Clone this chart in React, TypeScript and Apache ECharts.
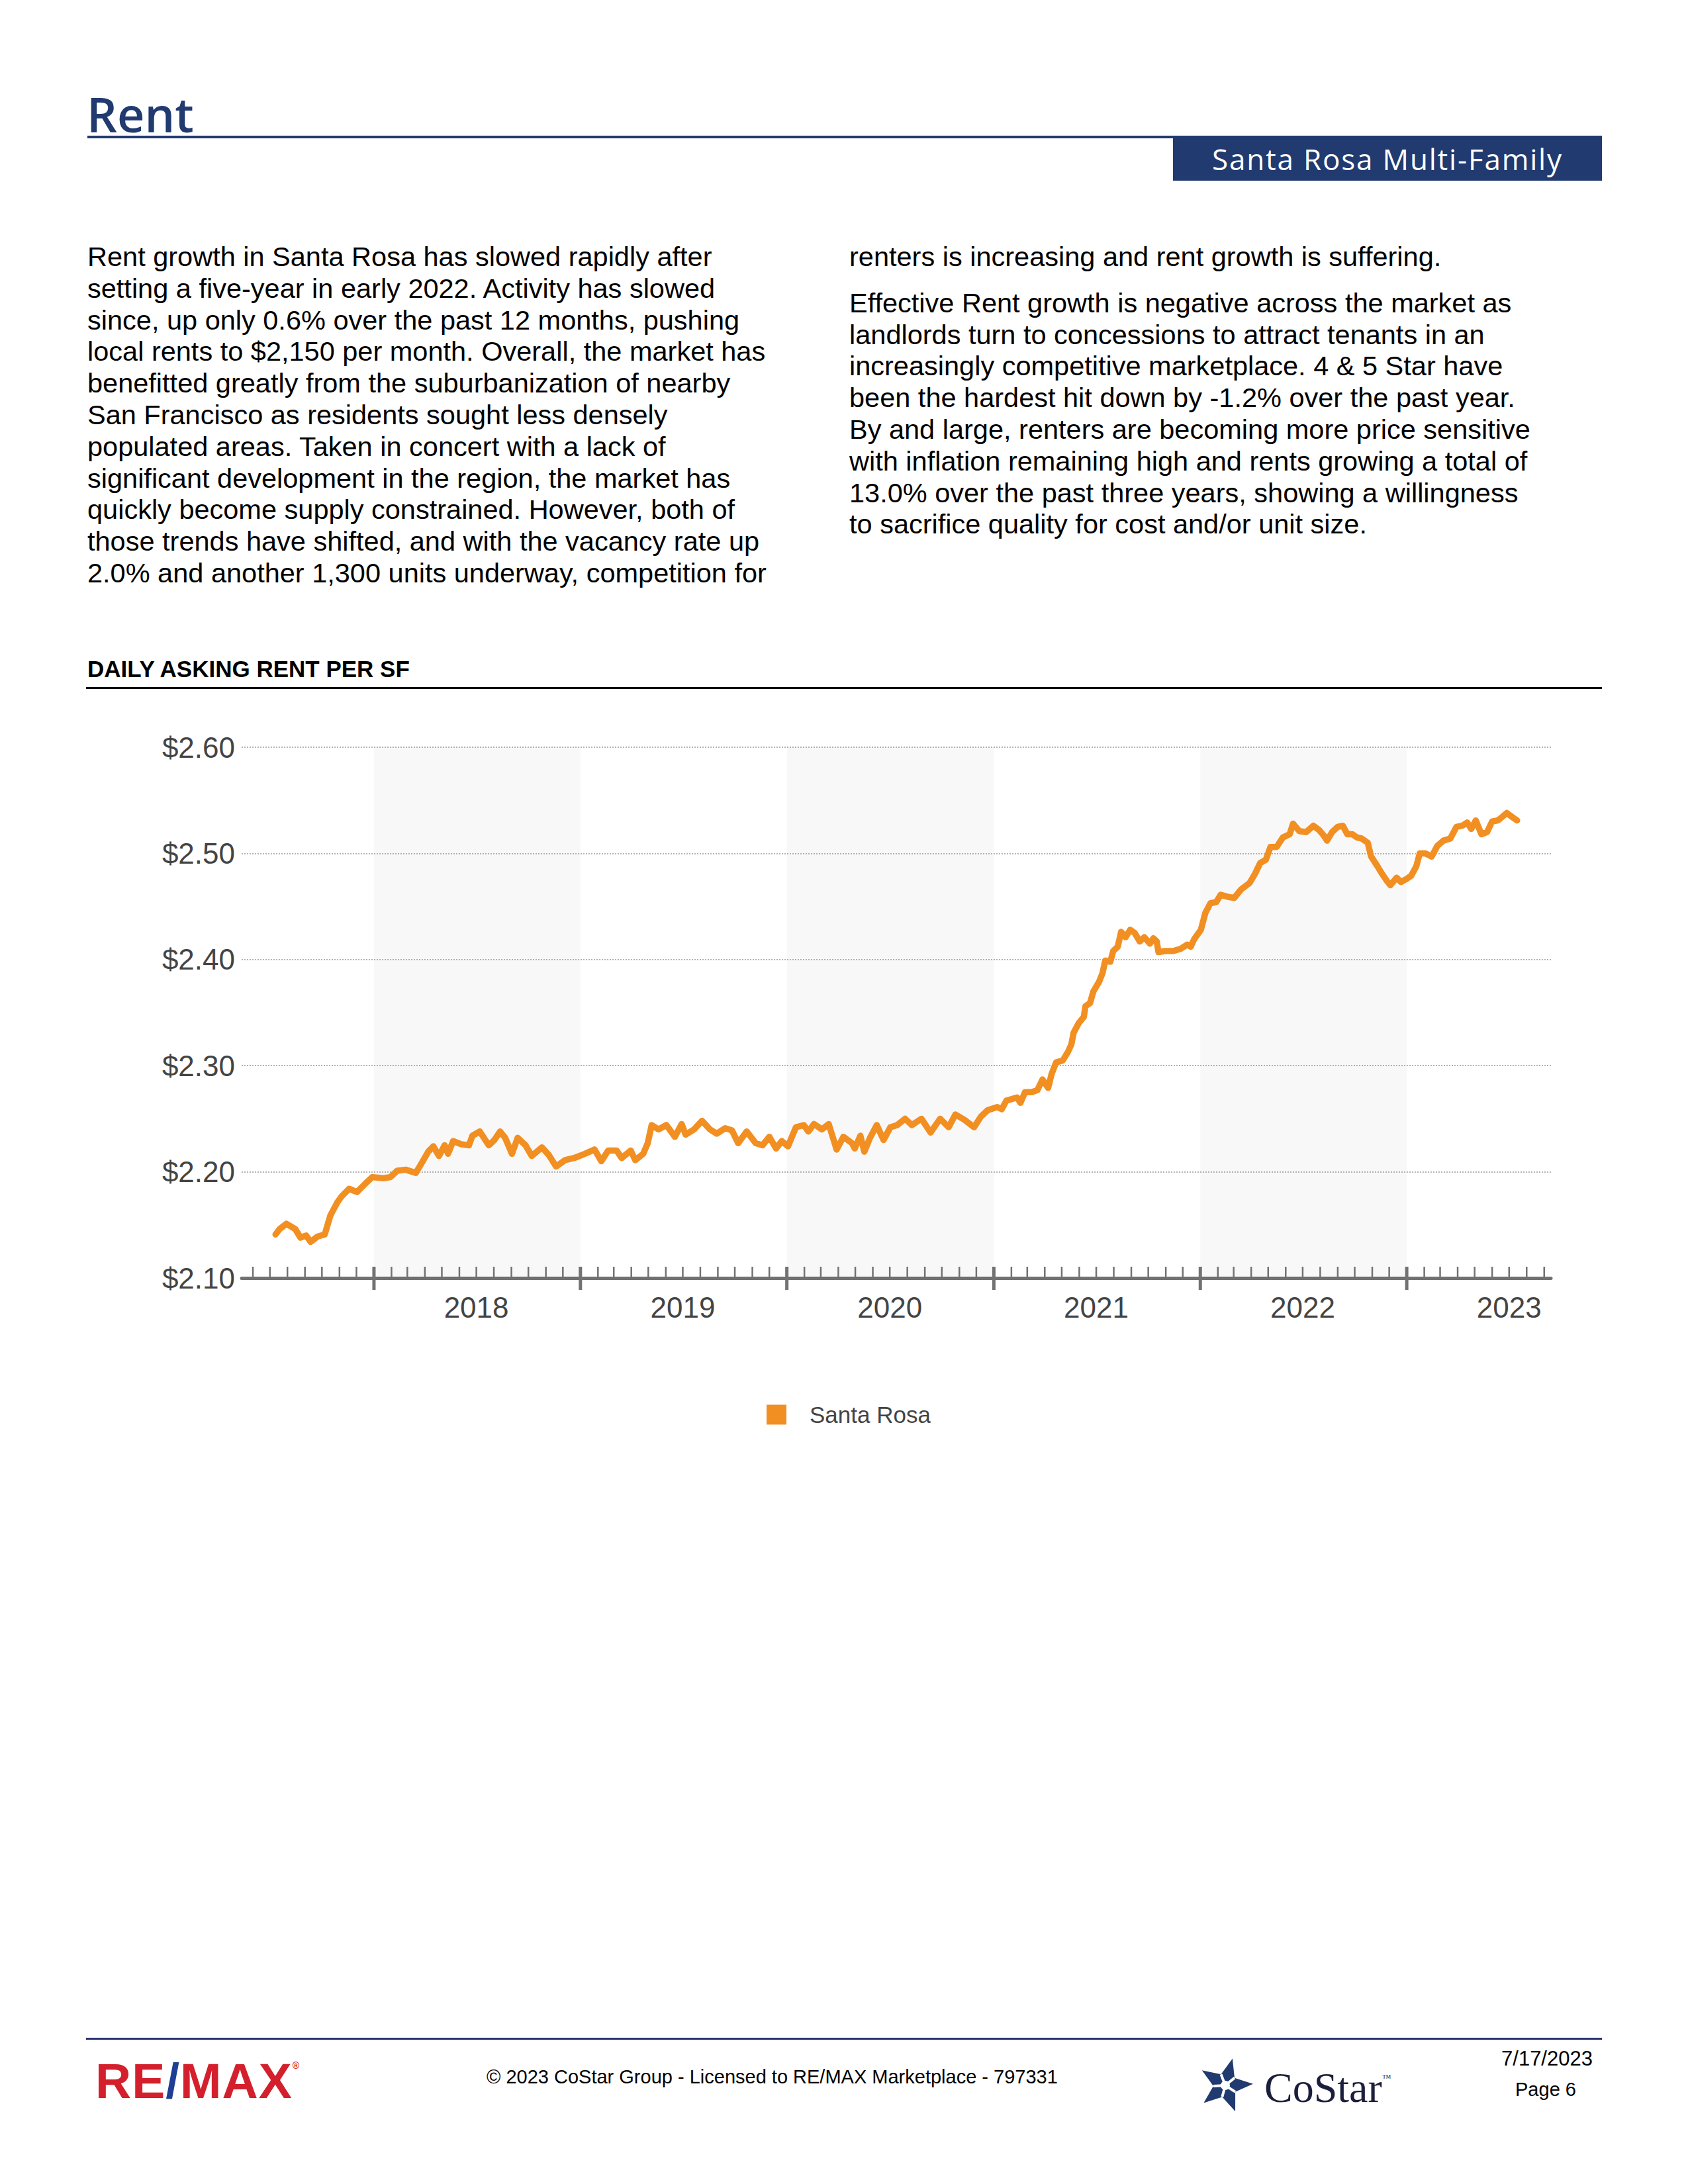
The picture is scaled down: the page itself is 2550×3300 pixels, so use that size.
import React, { useEffect, useRef } from "react";
import * as echarts from "echarts";

// ---------------- Data ----------------
const DATES = [
  "2017-07-11","2017-07-18","2017-07-30","2017-08-15","2017-08-24","2017-09-03","2017-09-11","2017-09-23",
  "2017-10-06","2017-10-16","2017-10-28","2017-11-05","2017-11-18","2017-12-02","2017-12-17","2017-12-29",
  "2018-01-18","2018-01-30","2018-02-11","2018-02-26","2018-03-16","2018-03-25","2018-04-07","2018-04-16",
  "2018-04-26","2018-05-06","2018-05-12","2018-05-21","2018-06-04","2018-06-18","2018-06-24","2018-07-07",
  "2018-07-23","2018-08-02","2018-08-12","2018-08-21","2018-09-02","2018-09-12","2018-09-26","2018-10-07",
  "2018-10-25","2018-11-06","2018-11-19","2018-12-05","2018-12-21",
  "2019-01-09","2019-01-26","2019-02-07","2019-02-19","2019-03-06","2019-03-15","2019-03-31","2019-04-08",
  "2019-04-22","2019-04-30","2019-05-07","2019-05-19","2019-06-02","2019-06-17","2019-06-29","2019-07-06",
  "2019-07-21","2019-08-04","2019-08-18","2019-08-30","2019-09-14","2019-09-26","2019-10-07","2019-10-22",
  "2019-11-07","2019-11-19","2019-12-01","2019-12-13","2019-12-23",
  "2020-01-03","2020-01-17","2020-01-31","2020-02-08","2020-02-18","2020-03-03","2020-03-15","2020-03-29",
  "2020-04-10","2020-04-25","2020-04-30","2020-05-10","2020-05-17","2020-05-27","2020-06-08","2020-06-20",
  "2020-07-02","2020-07-14","2020-07-28","2020-08-09","2020-08-26","2020-09-11","2020-09-28","2020-10-13",
  "2020-10-25","2020-11-10","2020-11-27","2020-12-09","2020-12-21",
  "2021-01-07","2021-01-15","2021-01-23","2021-02-11","2021-02-17","2021-02-25","2021-03-09","2021-03-19",
  "2021-03-28","2021-04-07","2021-04-13","2021-04-21","2021-05-03","2021-05-12","2021-05-18","2021-05-22",
  "2021-05-31","2021-06-09","2021-06-12","2021-06-20","2021-06-26","2021-07-06","2021-07-12","2021-07-17",
  "2021-07-26","2021-07-31","2021-08-08","2021-08-14","2021-08-22","2021-08-30","2021-09-07","2021-09-16",
  "2021-09-24","2021-10-04","2021-10-10","2021-10-16","2021-10-19","2021-10-31","2021-11-14","2021-11-27",
  "2021-12-09","2021-12-15","2021-12-21",
  "2022-01-02","2022-01-10","2022-01-19","2022-01-29","2022-02-06","2022-02-19","2022-03-02","2022-03-14",
  "2022-03-29","2022-04-08","2022-04-17","2022-04-27","2022-05-05","2022-05-16","2022-05-27","2022-06-08",
  "2022-06-14","2022-06-25","2022-07-07","2022-07-20","2022-07-30","2022-08-07","2022-08-13","2022-08-22",
  "2022-09-01","2022-09-10","2022-09-18","2022-09-27","2022-10-05","2022-10-13","2022-10-24","2022-10-30",
  "2022-11-10","2022-11-18","2022-11-27","2022-12-03","2022-12-14","2022-12-22",
  "2023-01-01","2023-01-09","2023-01-18","2023-01-24","2023-02-03","2023-02-14","2023-02-24","2023-03-07",
  "2023-03-19","2023-03-30","2023-04-09","2023-04-18","2023-04-25","2023-05-03","2023-05-13","2023-05-23",
  "2023-06-01","2023-06-11","2023-06-18","2023-06-27","2023-07-07","2023-07-15"
];

const RENT = [
  2.141,2.146,2.151,2.146,2.138,2.140,2.134,2.139,
  2.141,2.159,2.171,2.177,2.184,2.181,2.189,2.195,
  2.194,2.195,2.201,2.202,2.199,2.207,2.219,2.224,
  2.215,2.225,2.217,2.229,2.226,2.225,2.234,2.238,
  2.225,2.230,2.238,2.232,2.217,2.232,2.225,2.215,
  2.223,2.216,2.205,2.211,2.213,
  2.217,2.221,2.210,2.220,2.220,2.213,2.220,2.211,
  2.217,2.227,2.244,2.240,2.244,2.233,2.245,2.235,
  2.240,2.248,2.240,2.236,2.241,2.239,2.227,2.238,
  2.227,2.225,2.233,2.222,2.229,
  2.224,2.242,2.244,2.238,2.245,2.240,2.245,2.221,
  2.233,2.227,2.222,2.234,2.219,2.232,2.244,2.230,
  2.242,2.244,2.250,2.244,2.250,2.237,2.250,2.242,
  2.254,2.249,2.242,2.252,2.258,
  2.261,2.259,2.267,2.270,2.265,2.275,2.275,2.277,
  2.287,2.279,2.292,2.303,2.305,2.313,2.320,2.331,
  2.340,2.346,2.356,2.359,2.370,2.379,2.387,2.399,
  2.398,2.408,2.412,2.426,2.421,2.428,2.425,2.417,
  2.421,2.415,2.420,2.417,2.407,2.408,2.408,2.410,
  2.414,2.412,2.419,
  2.428,2.444,2.453,2.454,2.461,2.459,2.458,2.466,
  2.472,2.481,2.491,2.494,2.506,2.506,2.515,2.518,
  2.528,2.521,2.520,2.526,2.522,2.517,2.512,2.520,
  2.525,2.526,2.518,2.518,2.515,2.514,2.510,2.497,
  2.488,2.481,2.474,2.470,2.477,2.473,
  2.476,2.479,2.488,2.500,2.500,2.497,2.507,2.512,
  2.514,2.525,2.526,2.529,2.523,2.531,2.518,2.520,
  2.530,2.531,2.534,2.538,2.534,2.531
];

const SERIES_NAME = "Santa Rosa";
const SHADED_YEARS = [2018, 2020, 2022];
const LABEL_YEARS = [2018, 2019, 2020, 2021, 2022, 2023];
const X_MIN = "2017-05-12";
const X_MAX = "2023-09-13";
const Y_MIN = 2.1;
const Y_MAX = 2.6;
const Y_STEP = 0.1;

// monthly tick marks (first of each month inside the axis range)
const TICK_DATES: string[] = [];
for (let y = 2017; y <= 2023; y++) {
  for (let m = 1; m <= 12; m++) {
    const s = `${y}-${String(m).padStart(2, "0")}-01`;
    if (s > X_MIN && s < X_MAX) TICK_DATES.push(s);
  }
}

const LEFT_LINES = [
  "Rent growth in Santa Rosa has slowed rapidly after",
  "setting a five-year in early 2022. Activity has slowed",
  "since, up only 0.6% over the past 12 months, pushing",
  "local rents to $2,150 per month. Overall, the market has",
  "benefitted greatly from the suburbanization of nearby",
  "San Francisco as residents sought less densely",
  "populated areas. Taken in concert with a lack of",
  "significant development in the region, the market has",
  "quickly become supply constrained. However, both of",
  "those trends have shifted, and with the vacancy rate up",
  "2.0% and another 1,300 units underway, competition for",
];
const RIGHT_P1 = ["renters is increasing and rent growth is suffering."];
const RIGHT_P2 = [
  "Effective Rent growth is negative across the market as",
  "landlords turn to concessions to attract tenants in an",
  "increasingly competitive marketplace. 4 & 5 Star have",
  "been the hardest hit down by -1.2% over the past year.",
  "By and large, renters are becoming more price sensitive",
  "with inflation remaining high and rents growing a total of",
  "13.0% over the past three years, showing a willingness",
  "to sacrifice quality for cost and/or unit size.",
];

const ORANGE = "#F28F22";
const NAVY = "#213a70";
const SANS = "'Liberation Sans', Arial, Helvetica, sans-serif";

function Chart() {
  const ref = useRef<HTMLDivElement>(null);
  useEffect(() => {
    if (!ref.current) return;
    const chart = echarts.init(ref.current, null, { renderer: "svg" });
    const DAY = 86400000;
    chart.setOption({
      animation: false,
      grid: { left: 365, right: 207, top: 89, height: 802, containLabel: false },
      legend: {
        data: [SERIES_NAME],
        left: 1153,
        top: 1075,
        icon: "rect",
        itemWidth: 30,
        itemHeight: 30,
        textStyle: { fontSize: 35, color: "#444", fontFamily: SANS, padding: [0, 0, 0, 30] },
      },
      xAxis: {
        type: "time",
        min: X_MIN,
        max: X_MAX,
        minInterval: 182 * DAY,
        maxInterval: 182 * DAY,
        axisLine: { show: true, lineStyle: { color: "#717171", width: 5 } },
        axisTick: { show: false },
        splitLine: { show: false },
        axisLabel: {
          show: true,
          showMinLabel: false,
          showMaxLabel: false,
          fontSize: 44,
          color: "#444",
          fontFamily: SANS,
          margin: 22,
          formatter: (v: number) => {
            const d = new Date(v);
            const y = d.getFullYear();
            return d.getMonth() === 6 && d.getDate() === 1 && LABEL_YEARS.indexOf(y) >= 0 ? String(y) : "";
          },
        },
      },
      yAxis: {
        type: "value",
        min: Y_MIN,
        max: Y_MAX,
        interval: Y_STEP,
        axisLine: { show: false },
        axisTick: { show: false },
        axisLabel: {
          fontSize: 44,
          color: "#444",
          fontFamily: SANS,
          margin: 10,
          formatter: (v: number) => "$" + v.toFixed(2),
        },
        splitLine: { show: true, lineStyle: { color: "#b4b4b4", width: 2, type: [2, 2] } },
      },
      series: [
        {
          name: SERIES_NAME,
          type: "line",
          data: DATES.map((d, i) => [d, RENT[i]]),
          showSymbol: false,
          symbol: "none",
          itemStyle: { color: ORANGE },
          lineStyle: { color: ORANGE, width: 9.5, join: "round", cap: "round" },
          z: 3,
          markArea: {
            silent: true,
            itemStyle: { color: "rgba(0,0,0,0.028)" },
            data: SHADED_YEARS.map((y) => [{ xAxis: `${y}-01-01` }, { xAxis: `${y + 1}-01-01` }]),
          },
        },
        {
          name: "ticks",
          type: "custom",
          silent: true,
          clip: false,
          z: 4,
          data: TICK_DATES.map((d) => [d, Y_MIN, d.slice(5) === "01-01" ? 1 : 0]),
          encode: { x: 0, y: 1 },
          renderItem: (params: any, api: any) => {
            const pt = api.coord([api.value(0), api.value(1)]);
            const major = api.value(2) === 1;
            return {
              type: "line",
              shape: major
                ? { x1: pt[0], y1: pt[1] - 17, x2: pt[0], y2: pt[1] + 18 }
                : { x1: pt[0], y1: pt[1] - 2, x2: pt[0], y2: pt[1] - 17 },
              style: { stroke: "#727272", lineWidth: major ? 5 : 2.5 },
            };
          },
        },
      ],
    });
    return () => chart.dispose();
  }, []);
  return (
    <div
      ref={ref}
      style={{ position: "absolute", left: 0, top: 1040, width: 2550, height: 1160 }}
    />
  );
}

function Star() {
  const cx = 43, cy = 43, R = 42, r = 18;
  const outer: [number, number][] = [];
  const inner: [number, number][] = [];
  for (let i = 0; i < 5; i++) {
    const a = (-90 + 15 + i * 72) * Math.PI / 180;
    const b = a + 36 * Math.PI / 180;
    outer.push([cx + R * Math.cos(a), cy + R * Math.sin(a)]);
    inner.push([cx + r * Math.cos(b), cy + r * Math.sin(b)]);
  }
  const pts: string[] = [];
  for (let i = 0; i < 5; i++) {
    pts.push(outer[i].join(","));
    pts.push(inner[i].join(","));
  }
  return (
    <svg width={86} height={86} style={{ position: "absolute", left: 1808, top: 3108 }}>
      <polygon points={pts.join(" ")} fill={NAVY} />
      {outer.map((p, i) => (
        <line key={i} x1={cx} y1={cy} x2={inner[i][0]} y2={inner[i][1]} stroke="#fff" strokeWidth={4} />
      ))}
      <circle cx={cx} cy={cy} r={7} fill="#fff" />
    </svg>
  );
}

export default function App() {
  const bodyStyle: React.CSSProperties = {
    position: "absolute",
    fontFamily: SANS,
    fontSize: 41.5,
    lineHeight: "47.8px",
    color: "#000",
    whiteSpace: "nowrap",
  };
  return (
    <div
      style={{
        position: "absolute",
        left: 0,
        top: 0,
        width: 2550,
        height: 3300,
        background: "#fff",
        overflow: "hidden",
        fontFamily: SANS,
      }}
    >
      {/* Header */}
      <div
        style={{
          position: "absolute",
          left: 131,
          top: 136,
          fontFamily: "'Open Sans', Lato, sans-serif",
          fontWeight: 600,
          fontSize: 72,
          lineHeight: "72px",
          color: NAVY,
        }}
      >
        Rent
      </div>
      <div style={{ position: "absolute", left: 132, top: 205, width: 2288, height: 4, background: NAVY }} />
      <div
        style={{
          position: "absolute",
          left: 1772,
          top: 207,
          width: 648,
          height: 66,
          background: NAVY,
          color: "#fff",
          display: "flex",
          alignItems: "center",
          justifyContent: "center",
          fontFamily: "'Open Sans', Lato, sans-serif",
          fontSize: 44,
          lineHeight: "44px",
          letterSpacing: 1.8,
        }}
      >
        Santa Rosa Multi-Family
      </div>

      {/* Body text */}
      <div style={{ ...bodyStyle, left: 132, top: 364 }}>
        {LEFT_LINES.map((l, i) => (
          <div key={i}>{l}</div>
        ))}
      </div>
      <div style={{ ...bodyStyle, left: 1283, top: 364 }}>
        {RIGHT_P1.map((l, i) => (
          <div key={i}>{l}</div>
        ))}
        <div style={{ marginTop: 22 }}>
          {RIGHT_P2.map((l, i) => (
            <div key={i}>{l}</div>
          ))}
        </div>
      </div>

      {/* Chart title */}
      <div
        style={{
          position: "absolute",
          left: 132,
          top: 991,
          fontFamily: SANS,
          fontWeight: 700,
          fontSize: 35,
          lineHeight: "40px",
          color: "#000",
          whiteSpace: "nowrap",
        }}
      >
        DAILY ASKING RENT PER SF
      </div>
      <div style={{ position: "absolute", left: 130, top: 1038, width: 2290, height: 3, background: "#000" }} />

      <Chart />

      {/* Footer */}
      <div style={{ position: "absolute", left: 130, top: 3079, width: 2290, height: 3, background: "#2b3270" }} />
      <div
        style={{
          position: "absolute",
          left: 144,
          top: 3101,
          fontFamily: SANS,
          fontWeight: 700,
          fontSize: 75,
          lineHeight: "86px",
          color: "#d4202c",
          whiteSpace: "nowrap",
          letterSpacing: 1,
        }}
      >
        RE<span style={{ color: "#1f3f95" }}>/</span>MAX
        <span style={{ fontSize: 14, verticalAlign: "top", lineHeight: "40px" }}>®</span>
      </div>
      <div
        style={{
          position: "absolute",
          left: 735,
          top: 3121,
          fontFamily: SANS,
          fontSize: 29,
          lineHeight: "34px",
          color: "#000",
          whiteSpace: "nowrap",
        }}
      >
        © 2023 CoStar Group - Licensed to RE/MAX Marketplace - 797331
      </div>
      <Star />
      <div
        style={{
          position: "absolute",
          left: 1910,
          top: 3118,
          fontFamily: "'Liberation Serif', 'Times New Roman', serif",
          fontSize: 64,
          lineHeight: "74px",
          color: "#1b1f3b",
          whiteSpace: "nowrap",
        }}
      >
        CoStar<span style={{ fontSize: 14, verticalAlign: "top", lineHeight: "44px" }}>™</span>
      </div>
      <div
        style={{
          position: "absolute",
          left: 2237,
          top: 3093,
          width: 200,
          textAlign: "center",
          fontFamily: SANS,
          fontSize: 31,
          lineHeight: "36px",
          color: "#000",
        }}
      >
        7/17/2023
      </div>
      <div
        style={{
          position: "absolute",
          left: 2235,
          top: 3140,
          width: 200,
          textAlign: "center",
          fontFamily: SANS,
          fontSize: 29,
          lineHeight: "34px",
          color: "#000",
        }}
      >
        Page 6
      </div>
    </div>
  );
}
